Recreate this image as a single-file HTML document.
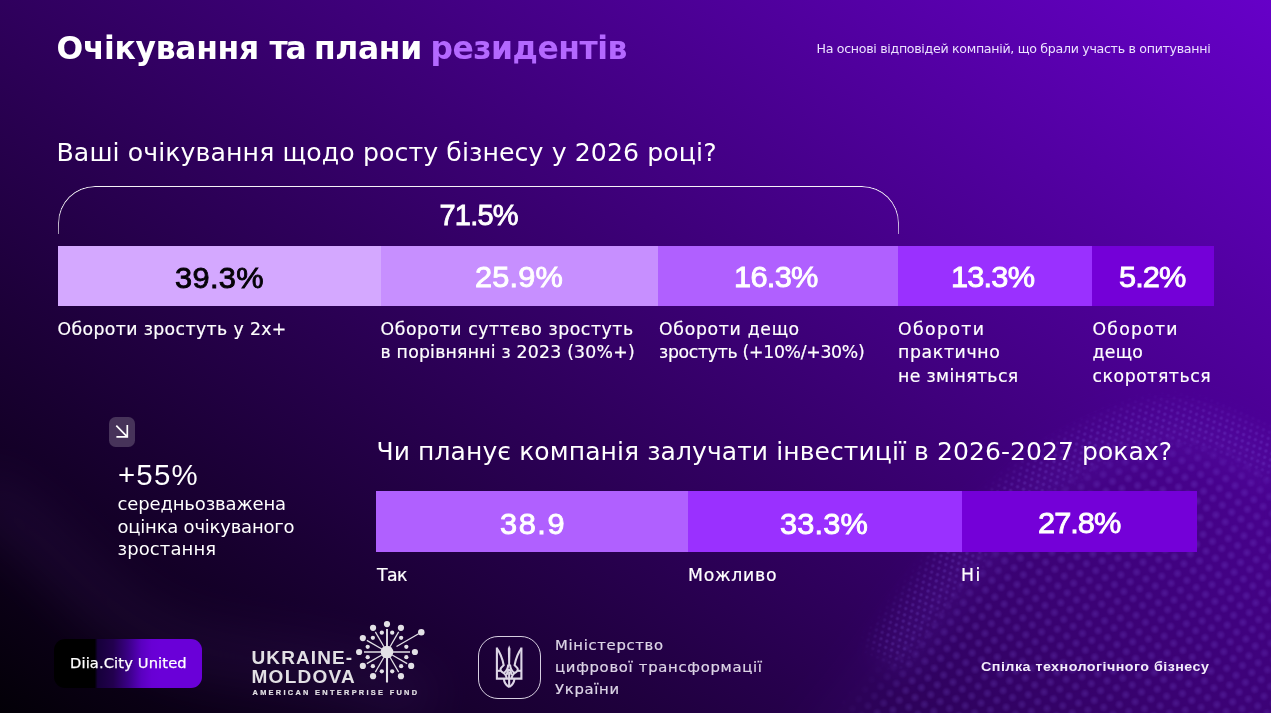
<!DOCTYPE html>
<html lang="uk">
<head>
<meta charset="utf-8">
<title>Очікування та плани резидентів</title>
<style>
*{box-sizing:border-box;margin:0;padding:0}
html,body{width:1271px;height:713px;overflow:hidden;background:#1c0038}
body{position:relative;font-family:"DejaVu Sans","Liberation Sans",sans-serif;color:#fff}
.slide{position:absolute;left:0;top:0;width:1271px;height:713px;overflow:hidden;
 background:
  linear-gradient(35deg,#030007 0%,#6600c8 100%);}
.dots{position:absolute;left:0;top:0;width:1271px;height:713px}
.t{position:absolute;white-space:nowrap;display:block}
h1.ttl{margin:0;font:inherit}
.bar{position:absolute}
.bracket{position:absolute;left:58px;top:186px;width:841px;height:48px;border:1.4px solid rgba(255,255,255,.95);border-bottom:none;border-radius:37px 37px 0 0;
 -webkit-mask-image:linear-gradient(to bottom,#000 0%,#000 45%,rgba(0,0,0,.6) 100%);mask-image:linear-gradient(to bottom,#000 0%,#000 45%,rgba(0,0,0,.6) 100%)}
.ico{position:absolute;left:109.1px;top:417.4px;width:26.4px;height:29.7px;border-radius:6.5px;background:#47335a}
.ico svg{position:absolute;left:0;top:0}
.pill{position:absolute;left:53.5px;top:638.5px;width:148.5px;height:49px;border-radius:11px;
 background:linear-gradient(90deg,#000 0%,#000 27.5%,#16003a 29.5%,#22004e 40%,#3a0086 50%,#5a00c0 59%,#6800d4 66%,#6a00d8 72%,#6a00d8 100%)}
.minbox{position:absolute;left:478px;top:636px;width:62.5px;height:63px;border:1.6px solid #d6cfe0;border-radius:20px}
svg.abs{position:absolute;overflow:visible}

</style>
</head>
<body>
<div class="slide">
<svg class="dots" width="1271" height="713" viewBox="0 0 1271 713">
 <defs>
  <radialGradient id="dg"><stop offset="0" stop-color="#8f6af2" stop-opacity=".5"/><stop offset=".5" stop-color="#8f6af2" stop-opacity=".3"/><stop offset="1" stop-color="#8f6af2" stop-opacity="0"/></radialGradient>
  <pattern id="dpc" width="16" height="17" patternUnits="userSpaceOnUse" patternTransform="rotate(-10)">
   <circle cx="4" cy="4.25" r="5" fill="url(#dg)"/><circle cx="12" cy="12.75" r="5" fill="url(#dg)"/><circle cx="20" cy="4.25" r="5" fill="url(#dg)"/><circle cx="-4" cy="12.75" r="5" fill="url(#dg)"/>
  </pattern>
  <pattern id="dpf" width="8" height="10" patternUnits="userSpaceOnUse" patternTransform="rotate(-28)">
   <circle cx="2" cy="2.5" r="2.4" fill="url(#dg)"/><circle cx="6" cy="7.5" r="2.4" fill="url(#dg)"/>
  </pattern>
  <filter id="bl1" x="-20%" y="-20%" width="140%" height="140%"><feGaussianBlur stdDeviation="24"/></filter>
  <filter id="bl2" x="-20%" y="-20%" width="140%" height="140%"><feGaussianBlur stdDeviation="7"/></filter>
  <filter id="bl3" x="-20%" y="-20%" width="140%" height="140%"><feGaussianBlur stdDeviation="14"/></filter>
  <mask id="mband" maskUnits="userSpaceOnUse" x="0" y="0" width="1271" height="713">
   <path d="M888,668 C940,592 1002,512 1074,468 C1122,440 1156,430 1188,434 C1222,438 1250,452 1285,474" fill="none" stroke="#fff" stroke-width="40" filter="url(#bl2)" transform="translate(-4,-12)"/>
  </mask>
  <mask id="mcoarse" maskUnits="userSpaceOnUse" x="0" y="0" width="1271" height="713">
   <path d="M905,690 C958,612 1016,540 1086,498 C1130,472 1160,462 1190,466 C1222,470 1250,484 1290,506 L1290,750 L850,750 C872,730 890,712 905,690 Z" fill="#fff" filter="url(#bl3)" transform="translate(-8,-22)"/>
  </mask>
 </defs>
 <path d="M872,640 C925,565 985,482 1060,437 C1110,408 1150,398 1185,402 C1222,406 1252,422 1285,444 L1290,750 L780,750 C820,710 848,675 872,640 Z" fill="#6a2ad0" opacity=".06" filter="url(#bl1)"/>
 <path d="M888,668 C940,592 1002,512 1074,468 C1122,440 1156,430 1188,434 C1222,438 1250,452 1285,474" fill="none" stroke="#8040e0" stroke-width="46" opacity=".08" filter="url(#bl3)"/>
 <path d="M-30,492 C40,520 75,590 150,632 C225,672 320,650 430,705" fill="none" stroke="#6a3aa0" stroke-width="56" opacity=".11" filter="url(#bl1)"/>
 <rect width="1271" height="713" fill="url(#dpf)" mask="url(#mband)" opacity=".5"/>
 <rect width="1271" height="713" fill="url(#dpc)" mask="url(#mcoarse)" opacity=".42"/>
</svg>

<div class="bracket"></div>

<div class="bar" style="left:58.2px;top:245.5px;width:322.8px;height:60.8px;background:#d4a8ff"></div>
<div class="bar" style="left:381px;top:245.5px;width:277.4px;height:60.8px;background:#c78fff"></div>
<div class="bar" style="left:658.4px;top:245.5px;width:239.6px;height:60.8px;background:#b060ff"></div>
<div class="bar" style="left:898px;top:245.5px;width:194px;height:60.8px;background:#9a30ff"></div>
<div class="bar" style="left:1092px;top:245.5px;width:121.5px;height:60.8px;background:#7400d8"></div>

<div class="bar" style="left:375.9px;top:491.2px;width:311.9px;height:60.4px;background:#b060ff"></div>
<div class="bar" style="left:687.8px;top:491.2px;width:273.9px;height:60.4px;background:#9a30ff"></div>
<div class="bar" style="left:961.7px;top:491.2px;width:235.5px;height:60.4px;background:#7400d8"></div>

<div class="ico"><svg width="26.5" height="29.5" viewBox="0 0 26.5 29.5"><path d="M7.3 8.6 L18.3 19.9 M18.3 7.9 V19.9 H7.4" fill="none" stroke="#fff" stroke-width="1.7" stroke-linejoin="miter"/></svg></div>

<div class="pill"></div>

<svg class="abs" style="left:341.6px;top:606.5px" width="90" height="90" viewBox="-45 -45 90 90">
<g fill="none" stroke="#e3e1e6" stroke-linecap="butt">
<path d="M0.00,-5.50 L0.00,-23.00" stroke-width="1.9"/>
<path d="M2.75,-4.76 L11.65,-20.18" stroke-width="1.25"/>
<path d="M9.53,-5.50 L31.61,-18.25" stroke-width="1.25"/>
<path d="M5.50,-0.00 L23.00,-0.00" stroke-width="1.5"/>
<path d="M4.76,2.75 L20.18,11.65" stroke-width="1.25"/>
<path d="M2.75,4.76 L11.65,20.18" stroke-width="1.25"/>
<path d="M0.00,5.50 L0.00,30.50" stroke-width="2.1"/>
<path d="M-2.75,4.76 L-11.65,20.18" stroke-width="1.25"/>
<path d="M-4.76,2.75 L-20.18,11.65" stroke-width="1.25"/>
<path d="M-5.50,0.00 L-23.00,0.00" stroke-width="1.5"/>
<path d="M-4.76,-2.75 L-20.18,-11.65" stroke-width="1.25"/>
<path d="M-2.75,-4.76 L-11.65,-20.18" stroke-width="1.25"/>
</g>
<g fill="#e3e1e6">
<circle cx="0" cy="0" r="6.3"/>
<circle cx="0.00" cy="-27.90" r="3.1"/>
<circle cx="13.95" cy="-24.16" r="3.1"/>
<circle cx="34.29" cy="-19.80" r="3.25"/>
<circle cx="27.90" cy="-0.00" r="3.1"/>
<circle cx="24.16" cy="13.95" r="3.1"/>
<circle cx="13.95" cy="24.16" r="3.1"/>
<circle cx="-13.95" cy="24.16" r="3.1"/>
<circle cx="-24.16" cy="13.95" r="3.1"/>
<circle cx="-27.90" cy="0.00" r="3.1"/>
<circle cx="-24.16" cy="-13.95" r="3.1"/>
<circle cx="-13.95" cy="-24.16" r="3.1"/>
<circle cx="5.18" cy="-19.32" r="2.15"/>
<circle cx="14.14" cy="-14.14" r="2.15"/>
<circle cx="19.32" cy="-5.18" r="2.15"/>
<circle cx="19.32" cy="5.18" r="2.15"/>
<circle cx="14.14" cy="14.14" r="2.15"/>
<circle cx="5.18" cy="19.32" r="2.15"/>
<circle cx="-5.18" cy="19.32" r="2.15"/>
<circle cx="-14.14" cy="14.14" r="2.15"/>
<circle cx="-19.32" cy="5.18" r="2.15"/>
<circle cx="-19.32" cy="-5.18" r="2.15"/>
<circle cx="-14.14" cy="-14.14" r="2.15"/>
<circle cx="-5.18" cy="-19.32" r="2.15"/>
</g>
</svg>

<div class="minbox"></div>
<svg class="abs" style="left:496.2px;top:645.3px" width="26.3" height="42.6" viewBox="0 0 26.3 42.6">
<g fill="none" stroke="#ddd6e6" stroke-width="2.1" stroke-linejoin="miter" stroke-linecap="butt">
<path d="M0.9,2.6 V33.6 H13.15"/>
<path d="M0.9,3.4 C3.6,7 6.2,12.6 7.7,20.2 L5.1,22.9 C3.9,24.4 4.6,26.2 6.6,27.4 C8.6,28.5 10.6,29.6 10.6,33.6"/>
<path d="M0.9,25.8 H4.6"/>
<path d="M12.3,19.5 C12.0,23.2 10.6,26.4 7.6,28.0"/>
<path d="M10.6,30.0 C11.0,27.2 12.2,25.2 13.15,24.2"/>
<path d="M7.8,33.6 C8.2,37.6 10.2,40.4 13.15,42.2"/>
<g transform="translate(26.3,0) scale(-1,1)">
<path d="M0.9,2.6 V33.6 H13.15"/>
<path d="M0.9,3.4 C3.6,7 6.2,12.6 7.7,20.2 L5.1,22.9 C3.9,24.4 4.6,26.2 6.6,27.4 C8.6,28.5 10.6,29.6 10.6,33.6"/>
<path d="M0.9,25.8 H4.6"/>
<path d="M12.3,19.5 C12.0,23.2 10.6,26.4 7.6,28.0"/>
<path d="M10.6,30.0 C11.0,27.2 12.2,25.2 13.15,24.2"/>
<path d="M7.8,33.6 C8.2,37.6 10.2,40.4 13.15,42.2"/>
</g>
<path d="M13.15,27 V42"/>
</g>
<path d="M13.15,0.2 L14.45,3.8 L14.1,20.4 L12.2,20.4 L11.85,3.8 Z" fill="#ddd6e6"/>
</svg>

<h1 class="ttl"><span class="t" id="tt1" style="left:56.50px;top:30.00px;font-family:'DejaVu Sans', 'Liberation Sans', sans-serif;font-weight:700;font-size:31.4px;line-height:37.7px;color:#fff;letter-spacing:-0.31px;">Очікування</span> <span class="t" id="tt2" style="left:269.50px;top:30.00px;font-family:'DejaVu Sans', 'Liberation Sans', sans-serif;font-weight:700;font-size:31.4px;line-height:37.7px;color:#fff;letter-spacing:-2.20px;">та</span> <span class="t" id="tt3" style="left:314.00px;top:30.00px;font-family:'DejaVu Sans', 'Liberation Sans', sans-serif;font-weight:700;font-size:31.4px;line-height:37.7px;color:#fff;letter-spacing:-0.35px;">плани</span> <span class="t" id="tt4" style="left:430.50px;top:30.00px;font-family:'DejaVu Sans', 'Liberation Sans', sans-serif;font-weight:700;font-size:31.4px;line-height:37.7px;color:#b468ff;letter-spacing:-0.47px;">резидентів</span></h1>
<div class="t" id="note" style="left:816.50px;top:41.00px;font-family:'DejaVu Sans', 'Liberation Sans', sans-serif;font-weight:400;font-size:12.6px;line-height:15.1px;color:#ece2ff;letter-spacing:-0.30px;">На основі відповідей компаній, що брали участь в опитуванні</div>
<div class="t" id="q1" style="left:56.50px;top:138.00px;font-family:'DejaVu Sans', 'Liberation Sans', sans-serif;font-weight:400;font-size:25.2px;line-height:30.2px;color:#fff;letter-spacing:0.09px;">Ваші очікування щодо росту бізнесу у 2026 році?</div>
<div class="t" id="p715" style="left:439.50px;top:198.00px;font-family:'Liberation Sans', sans-serif;font-weight:400;font-size:29px;line-height:34.8px;color:#fff;letter-spacing:-0.80px;-webkit-text-stroke:.85px #fff;">71.5%</div>
<div class="t" id="p1" style="left:175.00px;top:261.00px;font-family:'Liberation Sans', sans-serif;font-weight:400;font-size:29px;line-height:34.8px;color:#050208;letter-spacing:0.35px;transform:scaleX(1.06);transform-origin:0 0;-webkit-text-stroke:.85px #050208;">39.3%</div>
<div class="t" id="p2" style="left:475.00px;top:260.00px;font-family:'Liberation Sans', sans-serif;font-weight:400;font-size:29px;line-height:34.8px;color:#fff;letter-spacing:0.15px;transform:scaleX(1.06);transform-origin:0 0;-webkit-text-stroke:.85px #fff;">25.9%</div>
<div class="t" id="p3" style="left:734.00px;top:260.00px;font-family:'Liberation Sans', sans-serif;font-weight:400;font-size:29px;line-height:34.8px;color:#fff;letter-spacing:-0.65px;transform:scaleX(1.06);transform-origin:0 0;-webkit-text-stroke:.85px #fff;">16.3%</div>
<div class="t" id="p4" style="left:951.00px;top:260.00px;font-family:'Liberation Sans', sans-serif;font-weight:400;font-size:29px;line-height:34.8px;color:#fff;letter-spacing:-0.75px;transform:scaleX(1.06);transform-origin:0 0;-webkit-text-stroke:.85px #fff;">13.3%</div>
<div class="t" id="p5" style="left:1118.50px;top:260.00px;font-family:'Liberation Sans', sans-serif;font-weight:400;font-size:29px;line-height:34.8px;color:#fff;letter-spacing:-0.87px;transform:scaleX(1.06);transform-origin:0 0;-webkit-text-stroke:.85px #fff;">5.2%</div>
<div class="t" id="l1" style="left:57.50px;top:318.00px;font-family:'DejaVu Sans', 'Liberation Sans', sans-serif;font-weight:400;font-size:17.3px;line-height:23.45px;color:#fff;letter-spacing:0.38px;-webkit-text-stroke:.2px #fff;">Обороти зростуть у 2х+</div>
<div class="t" id="l2" style="left:380.50px;top:318.00px;font-family:'DejaVu Sans', 'Liberation Sans', sans-serif;font-weight:400;font-size:17.3px;line-height:23.45px;color:#fff;letter-spacing:0.57px;-webkit-text-stroke:.2px #fff;"><span style="letter-spacing:0.57px">Обороти суттєво зростуть</span><br><span style="letter-spacing:0.22px">в порівнянні з 2023 (30%+)</span></div>
<div class="t" id="l3" style="left:659.00px;top:318.00px;font-family:'DejaVu Sans', 'Liberation Sans', sans-serif;font-weight:400;font-size:17.3px;line-height:23.45px;color:#fff;letter-spacing:0.69px;-webkit-text-stroke:.2px #fff;"><span style="letter-spacing:0.69px">Обороти дещо</span><br><span style="letter-spacing:-0.30px">зростуть (+10%/+30%)</span></div>
<div class="t" id="l4" style="left:898.00px;top:318.00px;font-family:'DejaVu Sans', 'Liberation Sans', sans-serif;font-weight:400;font-size:17.3px;line-height:23.45px;color:#fff;letter-spacing:1.40px;-webkit-text-stroke:.2px #fff;"><span style="letter-spacing:1.40px">Обороти</span><br><span style="letter-spacing:0.65px">практично</span><br><span style="letter-spacing:0.35px">не зміняться</span></div>
<div class="t" id="l5" style="left:1092.50px;top:318.00px;font-family:'DejaVu Sans', 'Liberation Sans', sans-serif;font-weight:400;font-size:17.3px;line-height:23.45px;color:#fff;letter-spacing:1.23px;-webkit-text-stroke:.2px #fff;"><span style="letter-spacing:1.23px">Обороти</span><br><span style="letter-spacing:0.33px">дещо</span><br><span style="letter-spacing:0.55px">скоротяться</span></div>
<div class="t" id="p55" style="left:118.00px;top:457.00px;font-family:'Liberation Sans', sans-serif;font-weight:400;font-size:29.4px;line-height:35.3px;color:#fff;letter-spacing:1.20px;">+55%</div>
<div class="t" id="avg" style="left:117.50px;top:493.00px;font-family:'DejaVu Sans', 'Liberation Sans', sans-serif;font-weight:400;font-size:18.0px;line-height:22.5px;color:#fff;letter-spacing:-0.14px;"><span style="letter-spacing:-0.14px">середньозважена</span><br><span style="letter-spacing:-0.22px">оцінка очікуваного</span><br><span style="letter-spacing:0.10px">зростання</span></div>
<div class="t" id="q2" style="left:376.50px;top:437.00px;font-family:'DejaVu Sans', 'Liberation Sans', sans-serif;font-weight:400;font-size:25.0px;line-height:30.0px;color:#fff;letter-spacing:0.09px;">Чи планує компанія залучати інвестиції в 2026-2027 роках?</div>
<div class="t" id="b1" style="left:499.50px;top:507.00px;font-family:'Liberation Sans', sans-serif;font-weight:400;font-size:29px;line-height:34.8px;color:#fff;letter-spacing:1.47px;transform:scaleX(1.06);transform-origin:0 0;-webkit-text-stroke:.85px #fff;">38.9</div>
<div class="t" id="b2" style="left:780.00px;top:507.00px;font-family:'Liberation Sans', sans-serif;font-weight:400;font-size:29px;line-height:34.8px;color:#fff;letter-spacing:0.15px;transform:scaleX(1.06);transform-origin:0 0;-webkit-text-stroke:.85px #fff;">33.3%</div>
<div class="t" id="b3" style="left:1037.50px;top:506.00px;font-family:'Liberation Sans', sans-serif;font-weight:400;font-size:29px;line-height:34.8px;color:#fff;letter-spacing:-0.90px;transform:scaleX(1.06);transform-origin:0 0;-webkit-text-stroke:.85px #fff;">27.8%</div>
<div class="t" id="m1" style="left:377.00px;top:565.00px;font-family:'DejaVu Sans', 'Liberation Sans', sans-serif;font-weight:400;font-size:17.3px;line-height:20.8px;color:#fff;letter-spacing:-0.60px;-webkit-text-stroke:.2px #fff;">Так</div>
<div class="t" id="m2" style="left:688.00px;top:565.00px;font-family:'DejaVu Sans', 'Liberation Sans', sans-serif;font-weight:400;font-size:17.3px;line-height:20.8px;color:#fff;letter-spacing:0.73px;-webkit-text-stroke:.2px #fff;">Можливо</div>
<div class="t" id="m3" style="left:961.00px;top:565.00px;font-family:'DejaVu Sans', 'Liberation Sans', sans-serif;font-weight:400;font-size:17.3px;line-height:20.8px;color:#fff;letter-spacing:1.60px;-webkit-text-stroke:.2px #fff;">Ні</div>
<div class="t" id="diia" style="left:70.00px;top:654.00px;font-family:'DejaVu Sans', 'Liberation Sans', sans-serif;font-weight:400;font-size:14.7px;line-height:17.6px;color:#fff;letter-spacing:0.12px;-webkit-text-stroke:.25px #fff;">Diia.City United</div>
<div class="t" id="ukr" style="left:251.50px;top:647.00px;font-family:'Liberation Sans', sans-serif;font-weight:700;font-size:19px;line-height:22.8px;color:#e2e0e4;letter-spacing:1.11px;">UKRAINE-</div>
<div class="t" id="mol" style="left:251.50px;top:666.00px;font-family:'Liberation Sans', sans-serif;font-weight:700;font-size:19px;line-height:22.8px;color:#e2e0e4;letter-spacing:1.27px;">MOLDOVA</div>
<div class="t" id="aef" style="left:252.50px;top:689.00px;font-family:'Liberation Sans', sans-serif;font-weight:700;font-size:7.4px;line-height:8.9px;color:#e2e0e4;letter-spacing:2.30px;-webkit-text-stroke:.2px #e2e0e4;">AMERICAN ENTERPRISE FUND</div>
<div class="t" id="min" style="left:555.00px;top:635.00px;font-family:'DejaVu Sans', 'Liberation Sans', sans-serif;font-weight:400;font-size:14.2px;line-height:21.9px;color:#dcd4e6;letter-spacing:0.65px;transform:scaleX(1.045);transform-origin:0 0;-webkit-text-stroke:.2px #dcd4e6;"><span style="letter-spacing:0.65px">Міністерство</span><br><span style="letter-spacing:0.67px">цифрової трансформації</span><br><span style="letter-spacing:0.67px">України</span></div>
<div class="t" id="stb" style="left:980.50px;top:659.00px;font-family:'Liberation Sans', sans-serif;font-weight:700;font-size:13.5px;line-height:16.2px;color:#f2ecfa;letter-spacing:0.44px;transform:scaleX(1.06);transform-origin:0 0;">Спілка технологічного бізнесу</div>
</div>

</body>
</html>
